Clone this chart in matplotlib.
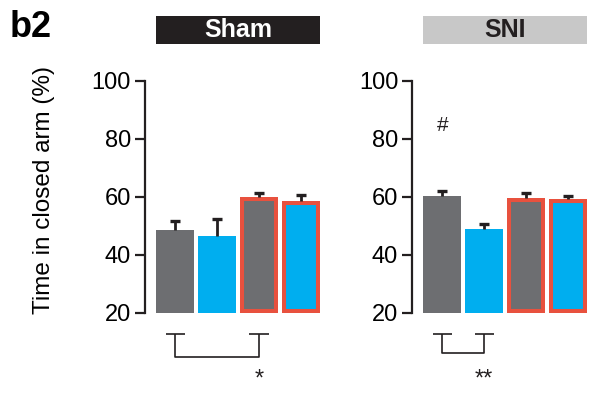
import numpy as np
import matplotlib
matplotlib.use("Agg")
import matplotlib.pyplot as plt
from matplotlib.patches import Rectangle

plt.rcParams['font.family'] = ['Liberation Sans', 'DejaVu Sans']

# dados
groups = ["Sham", "SNI"]
sham_mean = [48.6, 46.5, 60.0, 58.7]
sham_err = [3.2, 5.9, 1.4, 2.0]
sni_mean = [60.3, 49.0, 59.5, 59.3]
sni_err = [1.8, 1.6, 1.8, 1.1]
fill_colors = ['#6d6e71', '#00aeef', '#6d6e71', '#00aeef']
red_edge = [False, False, True, True]
yticks = [20, 40, 60, 80, 100]

# comparações (índices das barras) e rótulo
sham_bracket = (0, 2, '*')
sni_bracket = (0, 1, '**')

INK = '#231f20'
RED = '#e8513e'
BASE = 20


def draw_panel(ax, means, errs, title, box_color, text_color, bracket, bracket_low):
    x = np.arange(len(means))
    means = np.asarray(means)
    errs = np.asarray(errs)
    bars = ax.bar(x, means - BASE, width=0.9, bottom=BASE, color=fill_colors,
                  linewidth=0, zorder=2)
    for b, red in zip(bars, red_edge):
        if red:
            b.set_edgecolor(RED)
            b.set_linewidth(5.8)
            b.set_clip_path(b)
    # só a metade superior do erro
    ax.vlines(x, means, means + errs, color=INK, lw=2, zorder=3)
    ax.scatter(x, means + errs, marker='_', s=45, linewidths=2.4,
               color=INK, zorder=3)

    ax.set_xlim(-0.72, 3.5)
    ax.set_ylim(20, 100)
    ax.set_yticks(yticks)
    ax.set_xticks([])
    for s in ['top', 'right', 'bottom']:
        ax.spines[s].set_visible(False)
    ax.spines['left'].set_linewidth(1.6)
    ax.spines['left'].set_color(INK)
    ax.tick_params(axis='y', length=7, width=1.6, color=INK, labelsize=17, pad=3)

    # caixa do título
    ax.add_patch(Rectangle((-0.45, 112.8), 3.9, 9.6, facecolor=box_color,
                           edgecolor='none', clip_on=False))
    ax.text(1.5, 117.6, title, ha='center', va='center', fontsize=18,
            fontweight='bold', color=text_color)

    # colchete de comparação abaixo do eixo
    i, j, star = bracket
    top, hw = 12.8, 0.23
    kw = dict(color=INK, lw=1.2, clip_on=False, solid_capstyle='butt')
    ax.plot([i - hw, i + hw], [top, top], **kw)
    ax.plot([j - hw, j + hw], [top, top], **kw)
    ax.plot([i, i, j, j], [top, bracket_low, bracket_low, top], **kw)
    ax.text(j, -2.8, star, ha='center', va='center', fontsize=17, color=INK)


fig = plt.figure(figsize=(5.96, 3.94), dpi=100)
ax1 = fig.add_axes([0.2433, 0.2056, 0.297, 0.589])
ax2 = fig.add_axes([0.6913, 0.2056, 0.297, 0.589])

draw_panel(ax1, sham_mean, sham_err, groups[0], '#231f20', 'white', sham_bracket, 4.8)
draw_panel(ax2, sni_mean, sni_err, groups[1], '#c8c8c8', INK, sni_bracket, 6.2)

ax2.text(0, 84.8, '#', ha='center', va='center', fontsize=15, color=INK)

ax1.set_ylabel("Time in closed arm (%)", fontsize=17.5)
ax1.yaxis.set_label_coords(-0.51, 0.53)

fig.text(0.017, 0.93, 'b2', fontsize=26, fontweight='bold', ha='left', va='center')

fig.savefig('out.png', dpi=100)
